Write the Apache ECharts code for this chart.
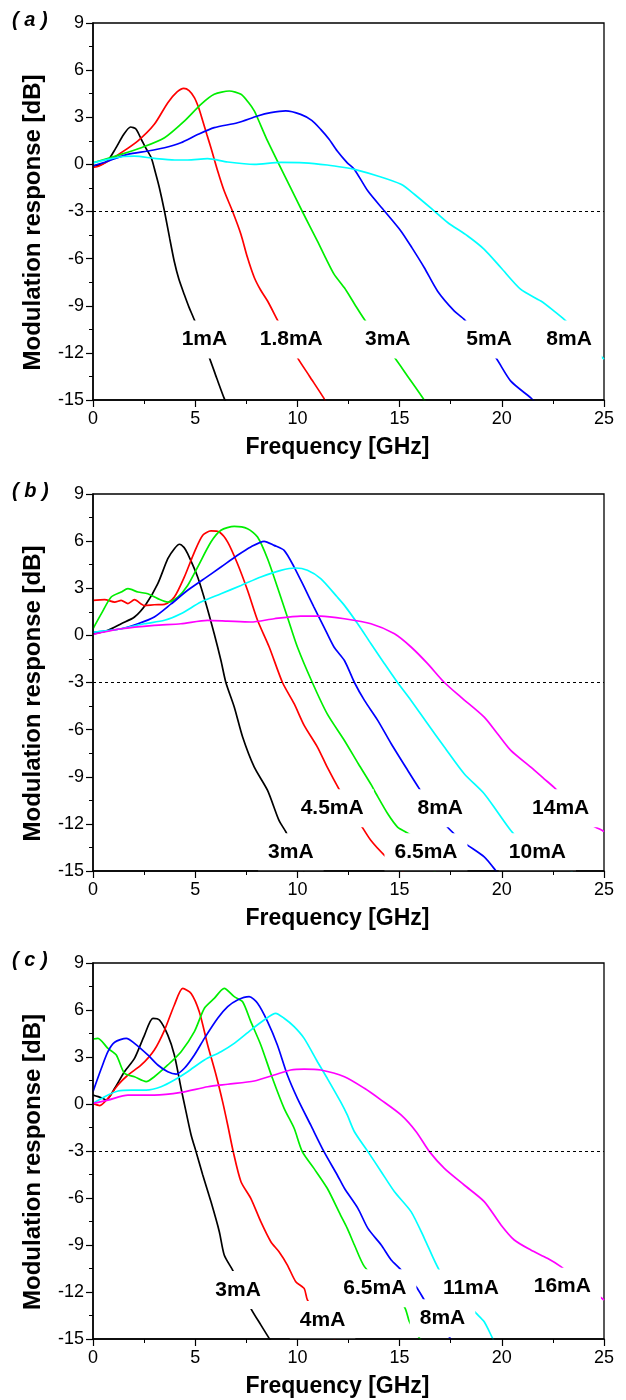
<!DOCTYPE html>
<html>
<head>
<meta charset="utf-8">
<script src="https://cdn.jsdelivr.net/npm/echarts@6/dist/echarts.min.js"></script>
<style>
  html, body { margin: 0; padding: 0; background: #fff; }
  #chart { width: 626px; height: 1400px; }
</style>
</head>
<body>
<div id="chart"></div>
<script>
// 曲线颜色（每个面板按顺序使用）
var colors = ["#000000", "#ff0000", "#00ee00", "#0000ff", "#00ffff", "#ff00ff"];

// (a) 各电流下的调制响应 [GHz, dB]
var a_1mA = [[0,-0.1],[0.4,0],[0.73,0.25],[1.1,1.0],[1.5,1.9],[1.84,2.38],[2.1,2.25],[2.36,1.6],[2.6,1.0],[2.85,0.42],[3.05,-0.5],[3.25,-1.5],[3.5,-3.0],[3.75,-4.7],[3.98,-6.2],[4.2,-7.3],[4.47,-8.3],[4.7,-9.1],[4.96,-9.9],[5.3,-11.1],[5.69,-12.3],[6.05,-13.6],[6.42,-14.9],[6.6,-15.4]];
var a_18mA = [[0,-0.2],[0.3,-0.1],[0.73,0.2],[1.38,0.74],[2.2,1.5],[3.0,2.55],[3.66,3.93],[4.1,4.6],[4.44,4.84],[4.7,4.7],[4.96,4.25],[5.17,3.6],[5.37,2.76],[5.57,1.9],[5.77,1.06],[6.1,-0.42],[6.42,-1.7],[6.83,-3.0],[7.24,-4.46],[7.55,-5.9],[7.89,-7.2],[8.2,-8.0],[8.54,-8.7],[9.02,-9.9],[9.5,-11.1],[10.0,-12.3],[10.6,-13.5],[11.3,-14.9],[11.4,-15.2]];
var a_3mA = [[0,0.1],[1.38,0.64],[2.36,1.06],[3.5,1.7],[4.47,2.76],[5.28,3.82],[5.93,4.46],[6.67,4.67],[7.24,4.46],[7.6,3.95],[7.89,3.4],[8.2,2.5],[8.54,1.49],[9.1,0],[9.67,-1.49],[10.24,-3.0],[10.98,-4.88],[11.4,-6.0],[11.8,-7.0],[12.3,-7.86],[12.8,-8.9],[13.28,-9.87],[14.0,-11.1],[14.75,-12.3],[15.4,-13.5],[16.13,-14.86],[16.3,-15.2]];
var a_5mA = [[0,-0.1],[0.73,0.2],[1.7,0.64],[2.68,0.85],[3.5,1.06],[4.3,1.38],[5.12,1.9],[5.93,2.34],[7.07,2.65],[8.05,3.08],[8.7,3.29],[9.43,3.4],[10.16,3.18],[10.7,2.8],[11.14,2.23],[11.55,1.6],[11.95,0.85],[12.44,0.1],[12.79,-0.32],[13.45,-1.7],[14.26,-2.97],[15.07,-4.25],[15.6,-5.3],[16.21,-6.58],[16.86,-8.07],[17.68,-9.34],[18.16,-9.87],[18.9,-11.1],[19.7,-12.3],[20.44,-13.8],[21.42,-14.86],[21.6,-15.1]];
var a_8mA = [[0,0.1],[0.73,0.32],[1.5,0.5],[2.03,0.53],[3.0,0.38],[4.0,0.28],[4.63,0.28],[5.6,0.36],[6.59,0.15],[7.89,0],[9.19,0.13],[10.33,0.1],[11.46,-0.04],[12.3,-0.2],[12.79,-0.32],[13.93,-0.74],[15.07,-1.27],[15.72,-1.9],[16.7,-2.97],[17.35,-3.7],[18.33,-4.56],[19.14,-5.41],[19.96,-6.58],[20.93,-7.96],[21.91,-8.7],[22.56,-9.34],[23.05,-9.87],[24.0,-11.1],[24.92,-12.3],[25,-12.4]];

// (b)
var b_3mA = [[0,0.1],[0.73,0.32],[1.38,0.74],[2.03,1.17],[2.6,2.0],[3.17,3.29],[3.66,4.88],[4.0,5.55],[4.23,5.8],[4.45,5.6],[4.63,5.2],[5.12,3.72],[5.53,2.0],[5.93,0.1],[6.26,-1.6],[6.5,-3.0],[6.91,-4.56],[7.32,-6.47],[7.89,-8.39],[8.54,-9.87],[9.1,-11.78],[9.43,-12.5],[9.9,-13.8],[10.3,-15.0],[10.4,-15.3]];
var b_45mA = [[0,2.23],[0.57,2.27],[1.06,2.12],[1.38,2.23],[1.71,2.02],[2.03,2.27],[2.52,1.9],[3.0,1.95],[3.5,1.97],[3.98,2.44],[4.47,3.72],[4.96,5.3],[5.37,6.37],[5.77,6.65],[6.18,6.58],[6.59,5.94],[7.07,4.56],[7.56,2.87],[8.05,0.96],[8.62,-0.74],[9.27,-3.0],[9.84,-4.35],[10.33,-5.73],[10.98,-7.11],[11.46,-8.39],[12.03,-9.77],[12.6,-11.0],[13.12,-12.1],[13.6,-13.06],[14.26,-14.0],[14.8,-14.6],[15.3,-15.2]];
var b_65mA = [[0,0.42],[0.41,1.38],[0.89,2.44],[1.38,2.76],[1.71,2.97],[2.2,2.76],[2.68,2.65],[3.17,2.34],[3.66,2.12],[4.15,2.44],[4.63,3.18],[5.12,4.35],[5.77,5.94],[6.26,6.69],[6.91,6.94],[7.56,6.79],[8.05,6.26],[8.54,4.88],[9.02,3.08],[9.51,1.17],[10.0,-0.74],[10.73,-3.0],[11.46,-5.0],[12.3,-6.69],[12.98,-8.17],[13.63,-9.55],[13.85,-10.08],[14.42,-11.36],[14.9,-12.2],[15.56,-12.74],[16.2,-14.0],[16.7,-15.0],[16.8,-15.2]];
var b_8mA = [[0,0.2],[1.38,0.42],[2.2,0.74],[3.0,1.17],[3.82,2.0],[4.63,2.87],[5.45,3.61],[6.26,4.35],[7.07,5.1],[7.72,5.63],[8.37,5.99],[8.86,5.73],[9.35,5.41],[9.84,4.35],[10.33,3.08],[10.81,1.8],[11.3,0.53],[11.79,-0.74],[12.3,-1.6],[12.79,-3.0],[13.28,-4.14],[13.93,-5.41],[14.59,-6.9],[15.4,-8.6],[15.97,-9.77],[16.6,-11.0],[17.27,-12.1],[17.76,-12.74],[18.24,-13.27],[19.14,-14.1],[19.7,-14.97],[19.8,-15.2]];
var b_10mA = [[0,0.2],[1.38,0.42],[2.52,0.74],[3.5,0.96],[4.3,1.38],[5.28,2.12],[6.26,2.65],[7.24,3.18],[8.21,3.72],[9.19,4.14],[9.92,4.29],[10.49,4.14],[11.14,3.61],[11.95,2.44],[12.3,1.91],[12.95,0.74],[13.6,-0.53],[14.26,-1.8],[14.9,-3.0],[15.56,-4.14],[16.37,-5.63],[17.19,-7.11],[18.16,-8.81],[19.14,-10.08],[19.79,-11.25],[20.44,-12.42],[21.3,-13.6],[22.4,-14.5],[23.4,-15.0],[23.5,-15.2]];
var b_14mA = [[0,0.06],[1.38,0.42],[3.0,0.64],[4.3,0.74],[5.6,0.96],[6.59,0.91],[7.72,0.85],[8.86,1.06],[10.16,1.23],[11.14,1.23],[12.3,1.06],[13.6,0.74],[14.75,0.1],[15.56,-0.74],[16.37,-1.8],[17.19,-3.0],[18.0,-3.93],[19.14,-5.2],[19.79,-6.26],[20.44,-7.32],[21.42,-8.39],[22.07,-9.13],[22.63,-9.77],[23.5,-11.0],[24.43,-12.1],[24.92,-12.42],[25,-12.5]];

// (c)
var c_3mA = [[0,0.57],[0.41,0.4],[0.65,0.25],[1.06,1.0],[1.54,2.06],[2.03,2.91],[2.52,4.4],[2.93,5.47],[3.25,5.36],[3.66,4.4],[3.98,3.13],[4.31,1.0],[4.55,-0.49],[4.8,-1.98],[5.04,-3.04],[5.37,-4.53],[5.77,-6.23],[6.18,-8.15],[6.42,-9.64],[6.83,-10.6],[7.3,-11.8],[7.72,-13.04],[8.21,-14.1],[8.62,-14.96],[8.75,-15.2]];
var c_4mA = [[0,0.04],[0.33,-0.1],[0.73,0.36],[1.22,1.21],[1.71,1.85],[2.36,2.49],[3.0,3.45],[3.5,4.72],[3.98,6.32],[4.39,7.38],[4.8,7.06],[5.2,5.89],[5.61,3.77],[6.02,1.85],[6.34,0.15],[6.59,-1.34],[6.86,-3.04],[7.24,-4.96],[7.72,-6.02],[8.21,-7.51],[8.7,-8.79],[9.1,-9.43],[9.51,-10.28],[9.92,-11.34],[10.33,-11.77],[10.49,-12.51],[11.1,-13.8],[11.8,-15.0],[11.9,-15.2]];
var c_65mA = [[0,4.15],[0.24,4.19],[0.73,3.55],[1.14,3.13],[1.54,1.96],[2.03,1.74],[2.6,1.43],[3.0,1.74],[3.66,2.49],[4.31,3.34],[4.96,4.62],[5.45,6.11],[5.93,6.74],[6.42,7.38],[6.91,6.85],[7.32,6.53],[7.72,5.26],[8.21,3.77],[8.78,1.64],[9.35,-0.28],[9.84,-1.55],[10.24,-3.04],[10.81,-4.11],[11.46,-5.38],[12.11,-7.09],[12.44,-7.94],[12.79,-9.0],[13.28,-10.38],[14.2,-11.6],[15.23,-12.94],[15.48,-13.9],[15.8,-14.6],[16.1,-15.2]];
var c_8mA = [[0,0.79],[0.41,2.28],[0.73,3.34],[1.06,3.94],[1.63,4.19],[2.03,3.87],[2.68,3.13],[3.17,2.49],[3.66,2.06],[4.07,1.91],[4.47,2.28],[4.96,3.13],[5.45,4.19],[6.1,5.47],[6.59,6.21],[7.07,6.64],[7.64,6.85],[8.05,6.43],[8.54,5.26],[9.02,3.77],[9.51,1.85],[10.0,0.36],[10.65,-1.34],[11.3,-3.04],[11.95,-4.53],[12.3,-5.38],[12.96,-6.66],[13.45,-7.94],[14.1,-9.0],[14.59,-9.96],[15.0,-10.49],[15.81,-11.66],[16.21,-12.51],[16.9,-13.9],[17.5,-15.0],[17.6,-15.2]];
var c_11mA = [[0,0.04],[0.57,0.47],[1.22,0.83],[1.87,0.89],[2.6,0.89],[3.33,1.1],[3.98,1.53],[4.63,2.06],[5.45,2.81],[6.26,3.34],[6.91,3.87],[7.72,4.72],[8.37,5.36],[8.94,5.79],[9.35,5.47],[9.84,4.94],[10.33,4.19],[10.98,2.7],[11.46,1.64],[12.11,0.15],[12.44,-0.7],[12.79,-1.77],[13.45,-3.04],[14.1,-4.32],[14.75,-5.6],[15.56,-6.87],[16.21,-8.57],[16.94,-10.6],[17.9,-12.2],[18.75,-13.36],[19.14,-13.9],[19.55,-14.96],[19.65,-15.2]];
var c_16mA = [[0,0.04],[0.73,0.25],[1.71,0.57],[3.0,0.57],[4.31,0.74],[5.61,1.1],[6.59,1.26],[7.89,1.47],[8.86,1.85],[9.67,2.17],[10.33,2.23],[11.14,2.17],[12.3,1.74],[13.28,1.0],[14.1,0.25],[15.07,-0.7],[15.81,-1.77],[16.46,-3.04],[17.19,-4.11],[18.16,-5.17],[19.14,-6.23],[19.96,-7.72],[20.61,-8.68],[21.42,-9.32],[22.23,-9.85],[22.89,-10.38],[24.0,-11.5],[25,-12.51]];

// 曲线标注 [文字, GHz, dB]
var labelsA = [["1mA",5.45,-11.15],["1.8mA",9.7,-11.15],["3mA",14.42,-11.15],["5mA",19.38,-11.15],["8mA",23.29,-11.15]];
var labelsB = [["3mA",9.68,-13.8],["4.5mA",11.7,-11.0],["6.5mA",16.29,-13.8],["8mA",16.99,-11.0],["10mA",21.74,-13.8],["14mA",22.88,-11.0]];
var labelsC = [["3mA",7.1,-11.87],["4mA",11.23,-13.79],["6.5mA",13.79,-11.76],["8mA",17.1,-13.68],["11mA",18.49,-11.77],["16mA",22.96,-11.66]];

var panelNames = ["( a )", "( b )", "( c )"];
var xTicks = { min: 0, max: 25, interval: 5 };
var yTicks = { min: -15, max: 9, interval: 3 };

var panels = [
  { curves: [a_1mA, a_18mA, a_3mA, a_5mA, a_8mA], labels: labelsA, top: 23, height: 377 },
  { curves: [b_3mA, b_45mA, b_65mA, b_8mA, b_10mA, b_14mA], labels: labelsB, top: 494, height: 377 },
  { curves: [c_3mA, c_4mA, c_65mA, c_8mA, c_11mA, c_16mA], labels: labelsC, top: 963, height: 376 }
];

var font = "Arial, 'Liberation Sans', sans-serif";
var grids = [], xAxes = [], yAxes = [], titles = [], series = [];

panels.forEach(function (p, i) {
  grids.push({
    left: 93, top: p.top, width: 511, height: p.height,
    show: true, borderColor: "#000", borderWidth: 1.3, backgroundColor: "transparent"
  });
  titles.push({
    text: panelNames[i], left: 12, top: p.top - 13, padding: 0,
    textStyle: { fontFamily: font, fontSize: 20, fontStyle: "italic", fontWeight: "bold", color: "#000" }
  });
  xAxes.push({
    type: "value", gridIndex: i, min: xTicks.min, max: xTicks.max, interval: xTicks.interval,
    zlevel: 1, z: 10,
    axisLine: { show: true, onZero: false, lineStyle: { color: "#000", width: 1.5 } },
    axisTick: { show: true, length: 7, lineStyle: { color: "#000", width: 1.2 } },
    minorTick: { show: true, splitNumber: 2, length: 4, lineStyle: { color: "#000", width: 1 } },
    splitLine: { show: false },
    axisLabel: { fontFamily: font, fontSize: 18, color: "#000", margin: 10 },
    name: "Frequency [GHz]", nameLocation: "middle", nameGap: 36,
    nameTextStyle: { fontFamily: font, fontSize: 23, fontWeight: "bold", color: "#000", padding: [0, 22, 0, 0] }
  });
  yAxes.push({
    type: "value", gridIndex: i, min: yTicks.min, max: yTicks.max, interval: yTicks.interval,
    zlevel: 1, z: 10,
    axisLine: { show: true, onZero: false, lineStyle: { color: "#000", width: 1.5 } },
    axisTick: { show: true, length: 7, lineStyle: { color: "#000", width: 1.2 } },
    minorTick: { show: true, splitNumber: 2, length: 4, lineStyle: { color: "#000", width: 1 } },
    splitLine: { show: false },
    axisLabel: { fontFamily: font, fontSize: 18, color: "#000", margin: 9 },
    name: "Modulation response [dB]", nameLocation: "middle", nameGap: 48,
    nameTextStyle: { fontFamily: font, fontSize: 24, fontWeight: "bold", color: "#000", padding: [0, 22, 0, 0] }
  });

  p.curves.forEach(function (d, k) {
    var s = {
      type: "line", xAxisIndex: i, yAxisIndex: i, data: d,
      showSymbol: false, smooth: 0.25, z: 2,
      lineStyle: { color: colors[k], width: 1.7 }, itemStyle: { color: colors[k] }
    };
    // -3 dB 参考线
    if (k === 0) {
      s.markLine = {
        silent: true, symbol: ["none", "none"], label: { show: false },
        lineStyle: { color: "#000", type: [3, 3], width: 1 },
        data: [{ yAxis: -3 }]
      };
    }
    series.push(s);
  });

  // 白底文字标注，盖住曲线（放在上层画布）
  series.push({
    type: "scatter", xAxisIndex: i, yAxisIndex: i, symbolSize: 1, zlevel: 1, z: 5, silent: true,
    itemStyle: { opacity: 1, color: "#fff" },
    data: p.labels.map(function (l) { return { name: l[0], value: [l[1], l[2]] }; }),
    label: {
      show: true, position: "inside", formatter: "{b}",
      fontFamily: font, fontSize: 21, fontWeight: "bold", color: "#000",
      backgroundColor: "#fff", padding: [9, 10, 9, 10], lineHeight: 20
    }
  });
});

var chart = echarts.init(document.getElementById("chart"));
chart.setOption({
  animation: false,
  backgroundColor: "#fff",
  title: titles,
  grid: grids,
  xAxis: xAxes,
  yAxis: yAxes,
  series: series
});
</script>
</body>
</html>
